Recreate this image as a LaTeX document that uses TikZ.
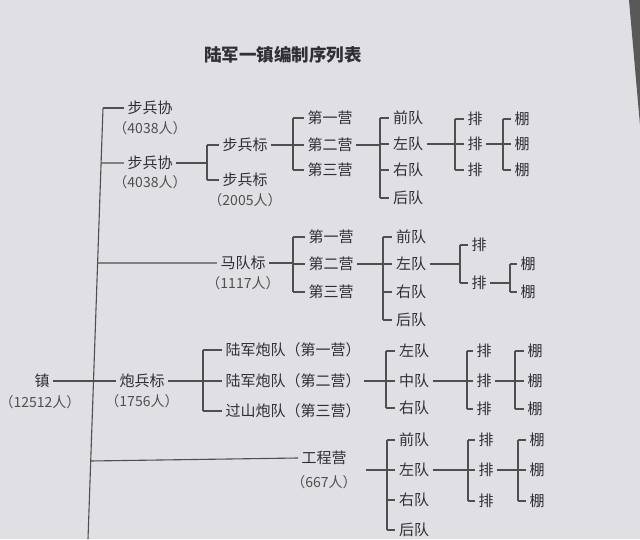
\documentclass[tikz,border=0pt]{standalone}
\usepackage{fontspec}
\newfontfamily\cjk{Noto Sans CJK SC}
\usetikzlibrary{calc}
\definecolor{bg}{RGB}{224,223,227}
\definecolor{ink}{RGB}{48,48,52}
\begin{document}
\begin{tikzpicture}[x=1pt,y=-1pt,
  lbl/.style={font=\cjk\fontsize{15}{17}\selectfont, text=ink, inner sep=3.5pt},
  cnt/.style={font=\cjk\fontsize{14}{16}\selectfont, text=ink!85, inner sep=1pt},
  ttl/.style={font=\cjk\bfseries\fontsize{17.5}{20}\selectfont, text=ink},
  ln/.style={draw=ink!85, line width=1.1pt}]
\fill[bg] (0,0) rectangle (640,539);
\useasboundingbox (0,0) rectangle (640,539);
\fill[black!65] (629,0) -- (640,0) -- (640,125) -- cycle;

\node[ttl] (title) at (283,55) {陆军一镇编制序列表};

% trunk
\coordinate (tT) at (103,108);
\coordinate (tB) at (88,539);
\draw[ln] (tT) -- (tB);

% ---- infantry
\node[lbl] (bu1) at (150,108) {步兵协};
\node[cnt] (bu1n) at (150,128) {（4038人）};
\node[lbl] (bu2) at (150,163) {步兵协};
\node[cnt] (bu2n) at (150,182) {（4038人）};
\draw[ln] (tT) -- (bu1.west);
\draw[ln] ($(tT)!0.1276!(tB)$) -- (bu2.west);

\node[lbl] (bb1) at (245,145) {步兵标};
\node[lbl] (bb2) at (245,180) {步兵标};
\node[cnt] (bb2n) at (245,200) {（2005人）};
\coordinate (k1) at (207,0);
\draw[ln] (bu2.east) -- (bu2.east -| k1);
\draw[ln] (bb1.west -| k1) -- (bb2.west -| k1);
\foreach \c in {bb1,bb2} \draw[ln] (\c.west -| k1) -- (\c.west);

\node[lbl] (y1a) at (330,118) {第一营};
\node[lbl] (y1b) at (330,145) {第二营};
\node[lbl] (y1c) at (330,170) {第三营};
\coordinate (k2) at (293,0);
\draw[ln] (bb1.east) -- (bb1.east -| k2);
\draw[ln] (y1a.west -| k2) -- (y1c.west -| k2);
\foreach \c in {y1a,y1b,y1c} \draw[ln] (\c.west -| k2) -- (\c.west);

\node[lbl] (d1a) at (408,118) {前队};
\node[lbl] (d1b) at (408,144) {左队};
\node[lbl] (d1c) at (408,170) {右队};
\node[lbl] (d1d) at (408,198) {后队};
\coordinate (k3) at (380,0);
\draw[ln] (y1b.east) -- (y1b.east -| k3);
\draw[ln] (d1a.west -| k3) -- (d1d.west -| k3);
\foreach \c in {d1a,d1b,d1c,d1d} \draw[ln] (\c.west -| k3) -- (\c.west);

\node[lbl] (p1a) at (475,119) {排};
\node[lbl] (p1b) at (475,144) {排};
\node[lbl] (p1c) at (475,170) {排};
\coordinate (k4) at (455,0);
\draw[ln] (d1b.east) -- (d1b.east -| k4);
\draw[ln] (p1a.west -| k4) -- (p1c.west -| k4);
\foreach \c in {p1a,p1b,p1c} \draw[ln] (\c.west -| k4) -- (\c.west);

\node[lbl] (s1a) at (522,119) {棚};
\node[lbl] (s1b) at (522,144) {棚};
\node[lbl] (s1c) at (522,170) {棚};
\coordinate (k5) at (503,0);
\draw[ln] (p1b.east) -- (p1b.east -| k5);
\draw[ln] (s1a.west -| k5) -- (s1c.west -| k5);
\foreach \c in {s1a,s1b,s1c} \draw[ln] (\c.west -| k5) -- (\c.west);

% ---- cavalry
\node[lbl] (mq) at (243,263) {马队标};
\node[cnt] (mqn) at (243,283) {（1117人）};
\draw[ln] ($(tT)!0.3596!(tB)$) -- (mq.west);

\node[lbl] (y2a) at (331,237) {第一营};
\node[lbl] (y2b) at (331,264) {第二营};
\node[lbl] (y2c) at (331,292) {第三营};
\coordinate (m1) at (293,0);
\draw[ln] (mq.east) -- (mq.east -| m1);
\draw[ln] (y2a.west -| m1) -- (y2c.west -| m1);
\foreach \c in {y2a,y2b,y2c} \draw[ln] (\c.west -| m1) -- (\c.west);

\node[lbl] (d2a) at (411,237) {前队};
\node[lbl] (d2b) at (411,264) {左队};
\node[lbl] (d2c) at (411,292) {右队};
\node[lbl] (d2d) at (411,320) {后队};
\coordinate (m2) at (383,0);
\draw[ln] (y2b.east) -- (y2b.east -| m2);
\draw[ln] (d2a.west -| m2) -- (d2d.west -| m2);
\foreach \c in {d2a,d2b,d2c,d2d} \draw[ln] (\c.west -| m2) -- (\c.west);

\node[lbl] (p2a) at (479,245) {排};
\node[lbl] (p2b) at (479,283) {排};
\coordinate (m3) at (460,0);
\draw[ln] (d2b.east) -- (d2b.east -| m3);
\draw[ln] (p2a.west -| m3) -- (p2b.west -| m3);
\foreach \c in {p2a,p2b} \draw[ln] (\c.west -| m3) -- (\c.west);

\node[lbl] (s2a) at (528,264) {棚};
\node[lbl] (s2b) at (528,292) {棚};
\coordinate (m4) at (510,0);
\draw[ln] (p2b.east) -- (p2b.east -| m4);
\draw[ln] (s2a.west -| m4) -- (s2b.west -| m4);
\foreach \c in {s2a,s2b} \draw[ln] (\c.west -| m4) -- (\c.west);

% ---- artillery
\node[lbl] (zhen) at (42,381) {镇};
\node[cnt] (zhenn) at (40,402) {（12512人）};
\node[lbl] (pb) at (142,381) {炮兵标};
\node[cnt] (pbn) at (142,401) {（1756人）};
\draw[ln] (zhen.east) -- (pb.west);

\node[lbl] (pd1) at (293,350) {陆军炮队（第一营）};
\node[lbl] (pd2) at (293,381) {陆军炮队（第二营）};
\node[lbl] (pd3) at (293,411) {过山炮队（第三营）};
\coordinate (a1) at (203,0);
\draw[ln] (pb.east) -- (pb.east -| a1);
\draw[ln] (pd1.west -| a1) -- (pd3.west -| a1);
\foreach \c in {pd1,pd2,pd3} \draw[ln] (\c.west -| a1) -- (\c.west);

\node[lbl] (d3a) at (414,351) {左队};
\node[lbl] (d3b) at (414,381) {中队};
\node[lbl] (d3c) at (414,408) {右队};
\coordinate (a2) at (386,0);
\draw[ln] (pd2.east) -- (pd2.east -| a2);
\draw[ln] (d3a.west -| a2) -- (d3c.west -| a2);
\foreach \c in {d3a,d3b,d3c} \draw[ln] (\c.west -| a2) -- (\c.west);

\node[lbl] (p3a) at (484,351) {排};
\node[lbl] (p3b) at (484,381) {排};
\node[lbl] (p3c) at (484,409) {排};
\coordinate (a3) at (467,0);
\draw[ln] (d3b.east) -- (d3b.east -| a3);
\draw[ln] (p3a.west -| a3) -- (p3c.west -| a3);
\foreach \c in {p3a,p3b,p3c} \draw[ln] (\c.west -| a3) -- (\c.west);

\node[lbl] (s3a) at (535,351) {棚};
\node[lbl] (s3b) at (535,381) {棚};
\node[lbl] (s3c) at (535,409) {棚};
\coordinate (a4) at (515,0);
\draw[ln] (p3b.east) -- (p3b.east -| a4);
\draw[ln] (s3a.west -| a4) -- (s3c.west -| a4);
\foreach \c in {s3a,s3b,s3c} \draw[ln] (\c.west -| a4) -- (\c.west);

% ---- engineers
\node[lbl] (gc) at (324,458) {工程营};
\node[cnt] (gcn) at (324,482) {（667人）};
\draw[ln] ($(tT)!0.819!(tB)$) -- (gc.west);
\coordinate (gcR) at (366,470);

\node[lbl] (d4a) at (414,440) {前队};
\node[lbl] (d4b) at (414,470) {左队};
\node[lbl] (d4c) at (414,500) {右队};
\node[lbl] (d4d) at (414,530) {后队};
\coordinate (g1) at (387,0);
\draw[ln] (gcR) -- (gcR -| g1);
\draw[ln] (d4a.west -| g1) -- (d4d.west -| g1);
\foreach \c in {d4a,d4b,d4c,d4d} \draw[ln] (\c.west -| g1) -- (\c.west);

\node[lbl] (p4a) at (486,440) {排};
\node[lbl] (p4b) at (486,470) {排};
\node[lbl] (p4c) at (486,501) {排};
\coordinate (g2) at (468,0);
\draw[ln] (d4b.east) -- (d4b.east -| g2);
\draw[ln] (p4a.west -| g2) -- (p4c.west -| g2);
\foreach \c in {p4a,p4b,p4c} \draw[ln] (\c.west -| g2) -- (\c.west);

\node[lbl] (s4a) at (537,440) {棚};
\node[lbl] (s4b) at (537,470) {棚};
\node[lbl] (s4c) at (537,501) {棚};
\coordinate (g3) at (518,0);
\draw[ln] (p4b.east) -- (p4b.east -| g3);
\draw[ln] (s4a.west -| g3) -- (s4c.west -| g3);
\foreach \c in {s4a,s4b,s4c} \draw[ln] (\c.west -| g3) -- (\c.west);
\end{tikzpicture}
\end{document}
